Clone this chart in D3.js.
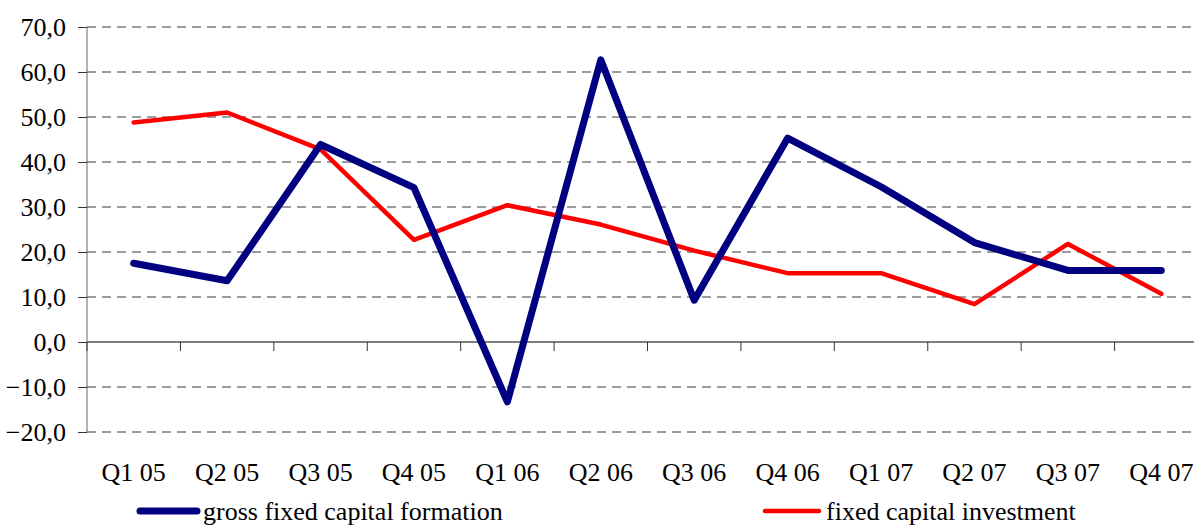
<!DOCTYPE html>
<html>
<head>
<meta charset="utf-8">
<script src="https://cdn.jsdelivr.net/npm/d3@7"></script>
<style>
html,body{margin:0;padding:0;background:#fff;overflow:hidden;}
svg{display:block;}
</style>
</head>
<body>
<svg id="chart" width="1194" height="525"></svg>
<script>
const categories = ["Q1 05","Q2 05","Q3 05","Q4 05","Q1 06","Q2 06","Q3 06","Q4 06","Q1 07","Q2 07","Q3 07","Q4 07"];
const grossFixedCapitalFormation = [17.5, 13.6, 43.9, 34.3, -13.3, 62.7, 9.3, 45.3, 34.5, 22.1, 15.9, 15.9];
const fixedCapitalInvestment = [48.8, 51.0, 42.8, 22.7, 30.4, 26.1, 20.3, 15.3, 15.3, 8.4, 21.8, 10.7];
const yTicks = [-20, -10, 0, 10, 20, 30, 40, 50, 60, 70];
const seriesNames = ["gross fixed capital formation", "fixed capital investment"];

(function () {
const FONT = "'Liberation Serif', Tinos, 'Times New Roman', 'DejaVu Serif', serif";
const svg = d3.select("#chart");
const pLeft = 87, pRight = 1208, pTop = 27, pBottom = 432;

const x = d3.scaleBand().domain(categories).range([pLeft, pRight]);
const y = d3.scaleLinear().domain([-20, 70]).range([pBottom, pTop]);
const fmt = v => d3.format(".1f")(v).replace(".", ",");

// gridlines (dashed), excluding zero
svg.append("g").selectAll("line")
  .data(yTicks.filter(v => v !== 0))
  .join("line")
  .attr("x1", pLeft).attr("x2", 1194)
  .attr("y1", d => y(d)).attr("y2", d => y(d))
  .attr("stroke", "#3a3a3a").attr("stroke-width", 1)
  .attr("stroke-dasharray", "9,6");

// y axis
const yAxis = d3.axisLeft(y).tickValues(yTicks).tickSize(9).tickPadding(12).tickFormat(fmt);
const gy = svg.append("g").attr("transform", `translate(${pLeft},0)`).call(yAxis);
gy.attr("font-family", null).attr("font-size", null);
gy.select(".domain").attr("stroke", "#666").attr("d", `M0,${pTop}V${pBottom}`);
gy.selectAll(".tick line").attr("stroke", "#333");
gy.selectAll("text").style("font-family", FONT).style("font-size", "26px").attr("fill", "#000").attr("dy", "0.34em");

// x axis at zero
const boundaries = d3.range(categories.length + 1).map(i => pLeft + i * x.step());
svg.append("line").attr("x1", pLeft).attr("x2", 1194).attr("y1", y(0)).attr("y2", y(0))
  .attr("stroke", "#555").attr("stroke-width", 1.3);
svg.append("g").selectAll("line").data(boundaries).join("line")
  .attr("x1", d => d).attr("x2", d => d)
  .attr("y1", y(0)).attr("y2", y(0) + 9)
  .attr("stroke", "#333").attr("stroke-width", 1);

// x labels
svg.append("g").selectAll("text").data(categories).join("text")
  .attr("x", d => x(d) + x.bandwidth() / 2)
  .attr("y", 481)
  .attr("text-anchor", "middle")
  .style("font-family", FONT).style("font-size", "26px")
  .text(d => d);

// lines
const line = d3.line()
  .x((d, i) => x(categories[i]) + x.bandwidth() / 2)
  .y(d => y(d));

svg.append("path").datum(fixedCapitalInvestment)
  .attr("d", line).attr("fill", "none")
  .attr("stroke", "#ff0000").attr("stroke-width", 4.5)
  .attr("stroke-linejoin", "round").attr("stroke-linecap", "round");

svg.append("path").datum(grossFixedCapitalFormation)
  .attr("d", line).attr("fill", "none")
  .attr("stroke", "#000080").attr("stroke-width", 7)
  .attr("stroke-linejoin", "round").attr("stroke-linecap", "round");

// legend
const legend = [
  {name: seriesNames[0], color: "#000080", w: 7, x1: 140, x2: 197, tx: 203},
  {name: seriesNames[1], color: "#ff0000", w: 4.5, x1: 765, x2: 819, tx: 826}
];
const lg = svg.append("g");
legend.forEach(l => {
  lg.append("line").attr("x1", l.x1).attr("x2", l.x2).attr("y1", 511).attr("y2", 511)
    .attr("stroke", l.color).attr("stroke-width", l.w).attr("stroke-linecap", "round");
  lg.append("text").attr("x", l.tx).attr("y", 520)
    .style("font-family", FONT).style("font-size", "26px").text(l.name);
});
})();
</script>
</body>
</html>
